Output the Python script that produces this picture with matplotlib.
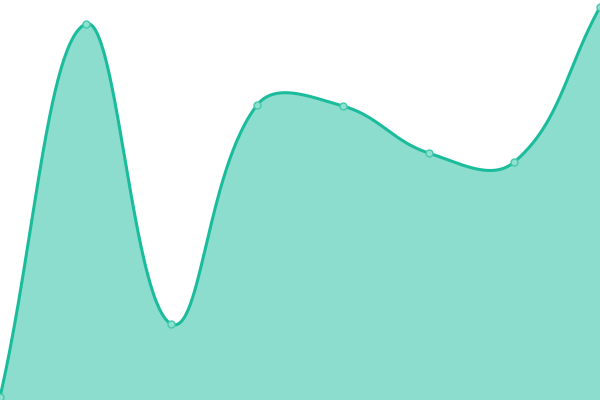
import numpy as np
import matplotlib
matplotlib.use("Agg")
import matplotlib.pyplot as plt

categories = ["A", "B", "C", "D", "E", "F", "G", "H"]
values = [3, 376, 76, 295, 294, 247, 238, 393]

LINE = "#1abc9c"
FILL = (26/255, 188/255, 156/255, 0.5)

W, H = 600, 400
fig = plt.figure(figsize=(W/100, H/100), dpi=100)
ax = fig.add_axes([0, 0, 1, 1])
ax.set_xlim(0, len(categories) - 1)
ax.set_ylim(0, 400)
ax.axis("off")

xs = np.arange(len(categories), dtype=float)
ys = np.array(values, dtype=float)
# Chart.js-style spline (tension 0.4) computed in pixel space
sx = W / (len(categories) - 1)
sy = H / 400.0
px = xs * sx
py = ys * sy
t = 0.4
n = len(px)
cp_prev = []
cp_next = []
for i in range(n):
    p0 = (px[i-1], py[i-1]) if i > 0 else (px[i], py[i])
    p1 = (px[i], py[i])
    p2 = (px[i+1], py[i+1]) if i < n-1 else (px[i], py[i])
    d01 = np.hypot(p1[0]-p0[0], p1[1]-p0[1])
    d12 = np.hypot(p2[0]-p1[0], p2[1]-p1[1])
    s01 = d01/(d01+d12) if (d01+d12) else 0
    s12 = d12/(d01+d12) if (d01+d12) else 0
    fa = t*s01
    fb = t*s12
    cp_prev.append((p1[0]-fa*(p2[0]-p0[0]), p1[1]-fa*(p2[1]-p0[1])))
    cp_next.append((p1[0]+fb*(p2[0]-p0[0]), p1[1]+fb*(p2[1]-p0[1])))

cx, cy = [], []
tt = np.linspace(0, 1, 60)
for i in range(n-1):
    P0 = np.array([px[i], py[i]])
    P1 = np.array(cp_next[i])
    P2 = np.array(cp_prev[i+1])
    P3 = np.array([px[i+1], py[i+1]])
    b = ((1-tt)**3)[:, None]*P0 + (3*(1-tt)**2*tt)[:, None]*P1 + (3*(1-tt)*tt**2)[:, None]*P2 + (tt**3)[:, None]*P3
    cx.extend(b[:, 0]); cy.extend(b[:, 1])
cx = np.array(cx)/sx
cy = np.array(cy)/sy

ax.fill_between(cx, cy, 0, color=FILL, lw=0)
ax.plot(cx, cy, color=LINE, lw=2.2, solid_capstyle="round")
ax.plot(xs, ys, "o", ms=5, mfc="#8ee0cf", mec="#45c9ad", mew=1, clip_on=False)

fig.savefig("out.png", dpi=100)
